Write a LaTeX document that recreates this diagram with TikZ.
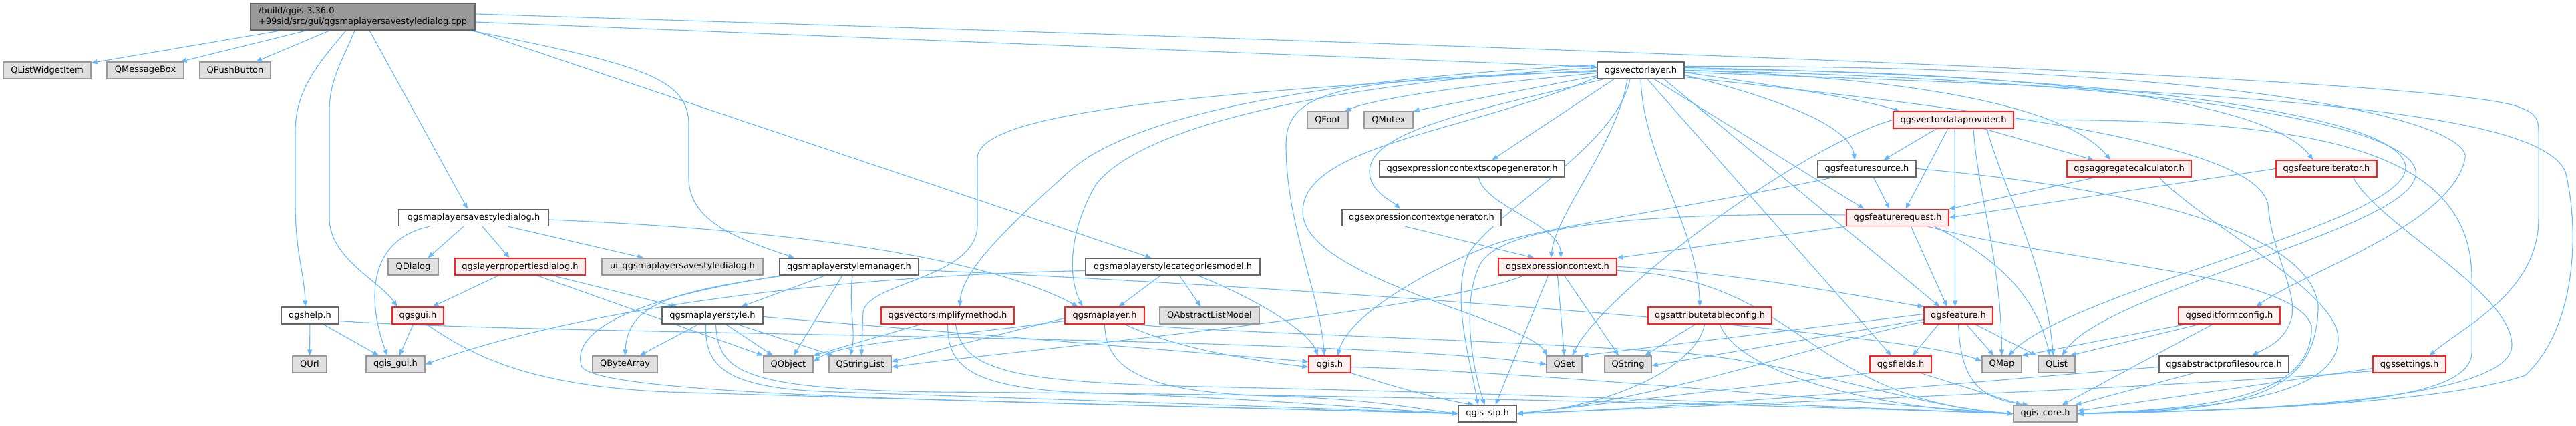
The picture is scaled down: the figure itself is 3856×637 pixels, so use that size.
\documentclass[tikz,border=0pt]{standalone}
\usepackage{fontspec}
\setmainfont{DejaVu Sans}
\usetikzlibrary{arrows.meta}
\definecolor{edgeblue}{HTML}{63B8FF}
\definecolor{extfill}{HTML}{E0E0E0}
\definecolor{extdraw}{HTML}{999999}
\definecolor{filedraw}{HTML}{666666}
\definecolor{mainfill}{HTML}{999999}
\definecolor{truncfill}{HTML}{FFF0F0}
\definecolor{truncdraw}{HTML}{FF2020}
\pgfdeclarelayer{edges}
\pgfsetlayers{edges,main}

\begin{document}
\begin{tikzpicture}[x=1pt,y=1pt,
	filebox/.style={draw=filedraw, fill=white, line width=1.2pt, minimum height=25pt, inner sep=0pt, font=\fontsize{13}{15.5}\selectfont},
	extbox/.style={filebox, draw=extdraw, fill=extfill},
	redbox/.style={filebox, draw=truncdraw, fill=truncfill},
	mainbox/.style={filebox, fill=mainfill},
	incl/.style={draw=edgeblue, line width=1.1pt, -{Triangle[length=9pt,width=7pt]}}]
			%%%%% START %%%%%
			
			\useasboundingbox (0,0) rectangle (3856,637);
			
			\node[mainbox, minimum width=336pt, minimum height=40pt, align=left] (main) at (543,612) {/build/qgis-3.36.0\\+99sid/src/gui/qgsmaplayersavestyledialog.cpp};
			
			\node[extbox, minimum width=131pt] (qlwi) at (70.5,531.5) {QListWidgetItem};
			\node[extbox, minimum width=115pt] (qmsgbox) at (217.5,531.5) {QMessageBox};
			\node[extbox, minimum width=106pt] (qpushbtn) at (352,531.5) {QPushButton};
			\node[filebox, minimum width=130pt] (vlayer) at (2456,531.5) {qgsvectorlayer.h};
			
			\node[extbox, minimum width=61pt] (qfont) at (1987.5,457.5) {QFont};
			\node[extbox, minimum width=73pt] (qmutex) at (2078.5,457.5) {QMutex};
			\node[redbox, minimum width=180pt] (vdprov) at (2924,457.5) {qgsvectordataprovider.h};
			
			\node[filebox, minimum width=277pt] (scopegen) at (2203.5,384.5) {qgsexpressioncontextscopegenerator.h};
			\node[filebox, minimum width=147pt] (fsource) at (2794.5,384.5) {qgsfeaturesource.h};
			\node[redbox, minimum width=186pt] (aggcalc) at (3187,384.5) {qgsaggregatecalculator.h};
			\node[redbox, minimum width=151pt] (fiter) at (3482.5,384.5) {qgsfeatureiterator.h};
			
			\node[filebox, minimum width=224pt] (savedlg) at (709,311) {qgsmaplayersavestyledialog.h};
			\node[filebox, minimum width=238pt] (ctxgen) at (2128,311) {qgsexpressioncontextgenerator.h};
			\node[redbox, minimum width=153pt] (freq) at (2840.5,311) {qgsfeaturerequest.h};
			
			\node[extbox, minimum width=75pt] (qdialog) at (618.5,237.5) {QDialog};
			\node[redbox, minimum width=195pt] (layerprops) at (778.5,237.5) {qgslayerpropertiesdialog.h};
			\node[extbox, minimum width=241pt] (uidlg) at (1021.5,237.5) {ui\_qgsmaplayersavestyledialog.h};
			\node[filebox, minimum width=208pt] (stylemgr) at (1271,237.5) {qgsmaplayerstylemanager.h};
			\node[filebox, minimum width=261pt] (catmodel) at (1755.5,237.5) {qgsmaplayerstylecategoriesmodel.h};
			\node[redbox, minimum width=177pt] (expctx) at (2331.5,237.5) {qgsexpressioncontext.h};
			
			\node[filebox, minimum width=86pt] (help) at (464,164.5) {qgshelp.h};
			\node[redbox, minimum width=77pt] (gui) at (625.5,164.5) {qgsgui.h};
			\node[filebox, minimum width=151pt] (mlstyle) at (1066.5,164.5) {qgsmaplayerstyle.h};
			\node[redbox, minimum width=199pt] (vsimpl) at (1418.5,164.5) {qgsvectorsimplifymethod.h};
			\node[redbox, minimum width=119pt] (mlayer) at (1653.5,164.5) {qgsmaplayer.h};
			\node[extbox, minimum width=149pt] (qalm) at (1810.5,164.5) {QAbstractListModel};
			\node[redbox, minimum width=185pt] (attrcfg) at (2559.5,164.5) {qgsattributetableconfig.h};
			\node[redbox, minimum width=103pt] (feature) at (2931.5,164.5) {qgsfeature.h};
			\node[redbox, minimum width=152pt] (editform) at (3337,164.5) {qgseditformconfig.h};
			
			\node[extbox, minimum width=51pt] (qurl) at (463.5,91.5) {QUrl};
			\node[extbox, minimum width=88pt] (qgisgui) at (592,91.5) {qgis\_gui.h};
			\node[extbox, minimum width=97pt] (qbytearr) at (935.5,91.5) {QByteArray};
			\node[extbox, minimum width=74pt] (qobject) at (1180,91.5) {QObject};
			\node[extbox, minimum width=93pt] (qstrlist) at (1287.5,91.5) {QStringList};
			\node[redbox, minimum width=63pt] (qgish) at (1990.5,91.5) {qgis.h};
			\node[extbox, minimum width=53pt] (qset) at (2341.5,91.5) {QSet};
			\node[extbox, minimum width=70pt] (qstring) at (2437,91.5) {QString};
			\node[redbox, minimum width=92pt] (fields) at (2845,91.5) {qgsfields.h};
			\node[extbox, minimum width=59pt] (qmap) at (2996.5,91.5) {QMap};
			\node[extbox, minimum width=55pt] (qlist) at (3078.5,91.5) {QList};
			\node[filebox, minimum width=194pt] (absprof) at (3329,91.5) {qgsabstractprofilesource.h};
			\node[redbox, minimum width=109pt] (sett) at (3606.5,91.5) {qgssettings.h};
			
			\node[filebox, minimum width=87pt] (qgissip) at (2226.5,17.5) {qgis\_sip.h};
			\node[extbox, minimum width=95pt] (qgiscore) at (3061.5,17.5) {qgis\_core.h};
			
			\begin{pgfonlayer}{edges}
			% the .cpp file
			\draw[incl] (main) -- (qlwi);
			\draw[incl] (main) -- (qmsgbox);
			\draw[incl] (main) -- (qpushbtn);
			\draw[incl] ([xshift=-25pt]main.south) .. controls (480,545) and (442,505) .. (442,440) -- (442,330) .. controls (442,260) and (456,225) .. ([xshift=-7pt]help.north);
			\draw[incl] ([xshift=-12pt]main.south) .. controls (515,550) and (493,520) .. (493,470) -- (493,310) .. controls (493,250) and (570,215) .. ([xshift=-31pt]gui.north);
			\draw[incl] ([xshift=10pt]main.south) -- ([xshift=-9pt]savedlg.north);
			\draw[incl] ([xshift=160pt]main.south) .. controls (960,540) and (1031,520) .. (1031,450) -- (1031,370) .. controls (1031,300) and (1120,275) .. ([xshift=-82pt]stylemgr.north);
			\draw[incl] ([xshift=165pt]main.south) -- ([xshift=-32pt]catmodel.north);
			\draw[incl] ([yshift=-8pt]main.east) -- ([yshift=5pt]vlayer.west);
			\draw[incl] ([yshift=4pt]main.east) .. controls (2500,560) and (3600,520) .. (3760,480) .. controls (3795,470) and (3800,460) .. (3800,440) -- (3800,310) .. controls (3800,200) and (3690,150) .. ([xshift=30pt]sett.north);
			
			% qgsmaplayersavestyledialog.h
			\draw[incl] ([xshift=-15pt]savedlg.south) -- ([xshift=22pt]qdialog.north);
			\draw[incl] ([xshift=-66pt]savedlg.south) .. controls (540,275) and (555,170) .. ([xshift=-12pt]qgisgui.north);
			\draw[incl] ([xshift=13pt]savedlg.south) -- ([xshift=-16pt]layerprops.north);
			\draw[incl] ([xshift=51pt]savedlg.south) -- ([xshift=-58pt]uidlg.north);
			\draw[incl] ([yshift=-3pt]savedlg.east) .. controls (1250,290) and (1500,240) .. ([xshift=-40pt]mlayer.north);
			
			\draw[incl] ([xshift=-32pt]layerprops.south) -- ([xshift=22pt]gui.north);
			\draw[incl] ([xshift=48pt]layerprops.south) -- ([xshift=-53pt]mlstyle.north);
			\draw[incl] ([xshift=25pt]layerprops.south) -- (qobject.north west);
			
			\draw[incl] ([xshift=-35pt]stylemgr.south) -- ([xshift=43pt]mlstyle.north);
			\draw[incl] ([xshift=-95pt]stylemgr.south) .. controls (1000,200) and (940,180) .. (qbytearr.north);
			\draw[incl] ([xshift=-10pt]stylemgr.south) -- ([xshift=8pt]qobject.north);
			\draw[incl] ([xshift=5pt]stylemgr.south) .. controls (1270,170) and (1282,140) .. ([xshift=-15pt]qstrlist.north);
			\draw[incl] ([xshift=-100pt]stylemgr.south) .. controls (880,180) and (862,120) .. (870,90) .. controls (880,40) and (1600,35) .. (qgissip.west);
			\draw[incl] ([yshift=-5pt]stylemgr.east) .. controls (2000,205) and (2850,140) .. ([yshift=5pt]qmap.west);
			
			\draw[incl] ([xshift=-18pt]catmodel.south) -- ([xshift=21pt]mlayer.north);
			\draw[incl] ([xshift=10pt]catmodel.south) -- ([xshift=-13pt]qalm.north);
			\draw[incl] ([xshift=37pt]catmodel.south) .. controls (1880,190) and (1960,140) .. ([xshift=-18pt]qgish.north);
			\draw[incl] ([yshift=-6pt]catmodel.west) .. controls (1300,225) and (900,185) .. (qgisgui.east);
			
			% gui side
			\draw[incl] (help) -- (qurl);
			\draw[incl] ([xshift=20pt]help.south) -- ([xshift=-25pt]qgisgui.north);
			\draw[incl] ([yshift=-8pt]help.east) .. controls (800,135) and (2000,135) .. (qset.west);
			\draw[incl] ([xshift=-7pt]gui.south) -- ([xshift=6pt]qgisgui.north);
			\draw[incl] ([xshift=13pt]gui.south) .. controls (700,110) and (780,60) .. (1000,50) .. controls (1500,35) and (1900,25) .. (qgissip.west);
			
			% qgsmaplayerstyle.h, qgsvectorsimplifymethod.h, qgsmaplayer.h, qgis.h
			\draw[incl] ([xshift=-21pt]mlstyle.south) -- ([xshift=22pt]qbytearr.north);
			\draw[incl] ([xshift=20pt]mlstyle.south) -- ([xshift=-23pt]qobject.north);
			\draw[incl] ([xshift=37pt]mlstyle.south) -- ([xshift=-40pt]qstrlist.north);
			\draw[incl] ([yshift=-2pt]mlstyle.east) -- ([yshift=4pt]qgish.west);
			\draw[incl] ([xshift=-10pt]mlstyle.south) .. controls (1055,90) and (1080,55) .. (1250,50) .. controls (1700,35) and (2000,25) .. (qgissip.west);
			\draw[incl] ([xshift=5pt]mlstyle.south) .. controls (1075,80) and (1110,55) .. (1400,50) .. controls (2200,45) and (2800,25) .. (qgiscore.west);
			
			\draw[incl] ([xshift=-40pt]vsimpl.south) -- (qobject.north east);
			\draw[incl] (vsimpl.south) .. controls (1418,90) and (1450,60) .. (1600,50) .. controls (1900,40) and (2050,25) .. (qgissip.west);
			\draw[incl] ([xshift=12pt]vsimpl.south) .. controls (1440,80) and (1520,65) .. (1800,58) .. controls (2400,45) and (2800,25) .. (qgiscore.west);
			
			\draw[incl] ([yshift=-4pt]mlayer.west) -- ([yshift=4pt]qstrlist.east);
			\draw[incl] ([yshift=-8pt]mlayer.west) .. controls (1400,130) and (1260,125) .. ([yshift=4pt]qobject.east);
			\draw[incl] ([xshift=30pt]mlayer.south) .. controls (1750,120) and (1850,100) .. ([yshift=-4pt]qgish.west);
			\draw[incl] (mlayer.south) .. controls (1655,80) and (1720,50) .. (1900,44) .. controls (2050,40) and (2120,25) .. (qgissip.west);
			\draw[incl] ([xshift=45pt]mlayer.south) .. controls (1800,140) and (2200,130) .. (2500,110) .. controls (2700,95) and (2850,30) .. (qgiscore.west);
			
			\draw[incl] (qgish.south east) .. controls (2080,60) and (2150,40) .. ([xshift=-20pt]qgissip.north);
			\draw[incl] ([yshift=-4pt]qgish.east) .. controls (2300,80) and (2700,40) .. (qgiscore.west);
			
			% qgsvectorlayer.h
			\draw[incl] ([yshift=-4pt]vlayer.west) .. controls (2200,510) and (2060,490) .. ([xshift=-6pt]qfont.north east);
			\draw[incl] ([yshift=-8pt]vlayer.west) -- (qmutex.north east);
			\draw[incl] ([xshift=-40pt]vlayer.south) -- ([xshift=30pt]scopegen.north);
			\draw[incl] ([xshift=-55pt]vlayer.south) .. controls (2200,470) and (2050,440) .. (2050,380) .. controls (2050,350) and (2085,335) .. ([xshift=-32pt]ctxgen.north);
			\draw[incl] ([yshift=-3pt]vlayer.east) .. controls (2650,510) and (2780,490) .. ([xshift=-80pt]vdprov.north);
			\draw[incl] ([yshift=-7pt]vlayer.east) .. controls (2700,480) and (2770,440) .. ([xshift=-18pt]fsource.north);
			\draw[incl] (vlayer.east) .. controls (2900,520) and (3100,470) .. ([xshift=-28pt]aggcalc.north);
			\draw[incl] ([yshift=2pt]vlayer.east) .. controls (3100,530) and (3400,480) .. ([xshift=-20pt]fiter.north);
			\draw[incl] ([xshift=20pt]vlayer.south) -- ([xshift=-50pt]freq.north);
			\draw[incl] ([xshift=-20pt]vlayer.south) .. controls (2420,420) and (2330,320) .. ([xshift=-10pt]expctx.north);
			\draw[incl] (vlayer.south) .. controls (2460,400) and (2540,300) .. ([xshift=-15pt]attrcfg.north);
			\draw[incl] ([xshift=10pt]vlayer.south) -- ([xshift=-14pt]fields.north);
			\draw[incl] ([xshift=35pt]vlayer.south) -- ([xshift=-28pt]feature.north);
			\draw[incl] ([xshift=-16pt]vlayer.south) .. controls (2420,420) and (2250,330) .. (2200,260) .. controls (2170,200) and (2200,100) .. ([xshift=-14pt]qgissip.north);
			\draw[incl] ([yshift=-10pt]vlayer.west) .. controls (2200,440) and (1950,420) .. (1950,320) .. controls (1950,220) and (2280,160) .. ([xshift=-25pt]qset.north);
			\draw[incl] ([yshift=-2pt]vlayer.west) .. controls (2000,520) and (1925,500) .. (1925,420) .. controls (1925,300) and (1975,200) .. ([xshift=-8pt]qgish.north);
			\draw[incl] ([yshift=4pt]vlayer.west) .. controls (1950,510) and (1700,440) .. (1640,360) .. controls (1605,300) and (1595,230) .. ([xshift=-33pt]mlayer.north);
			\draw[incl] ([yshift=8pt]vlayer.west) .. controls (2000,520) and (1700,470) .. (1600,380) .. controls (1500,290) and (1440,230) .. ([xshift=18pt]vsimpl.north);
			\draw[incl] (vlayer.west) .. controls (1800,500) and (1463,470) .. (1463,400) -- (1463,300) .. controls (1463,220) and (1300,215) .. (1292,170) -- ([xshift=2pt]qstrlist.north);
			\draw[incl] ([yshift=4pt]vlayer.east) .. controls (3300,520) and (3620,450) .. (3600,380) .. controls (3580,300) and (3100,200) .. ([xshift=10pt]qmap.north);
			\draw[incl] (vlayer.east) .. controls (3320,515) and (3640,440) .. (3615,370) .. controls (3590,290) and (3150,200) .. ([xshift=8pt]qlist.north);
			\draw[incl] ([yshift=6pt]vlayer.east) .. controls (3400,540) and (3700,450) .. (3690,400) .. controls (3670,300) and (3450,230) .. ([xshift=40pt]editform.north);
			\draw[incl] ([yshift=-10pt]vlayer.east) .. controls (3000,470) and (3380,420) .. (3395,330) .. controls (3400,260) and (3440,200) .. (3430,160) .. controls (3420,125) and (3390,115) .. ([xshift=42pt]absprof.north);
			\draw[incl] ([yshift=-3pt]vlayer.east) .. controls (3400,500) and (3800,470) .. (3840,380) .. controls (3860,300) and (3860,150) .. (3780,75) .. controls (3650,30) and (3300,22) .. (qgiscore.east);
			
			% qgsvectordataprovider.h and the feature classes
			\draw[incl] ([xshift=-25pt]vdprov.south) -- ([xshift=25pt]fsource.north);
			\draw[incl] ([xshift=45pt]vdprov.south) -- ([xshift=-53pt]aggcalc.north);
			\draw[incl] ([xshift=-8pt]vdprov.south) -- ([xshift=12pt]freq.north);
			\draw[incl] ([xshift=2pt]vdprov.south) -- ([xshift=-5pt]feature.north);
			\draw[incl] ([xshift=30pt]vdprov.south) .. controls (2960,350) and (2995,250) .. (qmap.north);
			\draw[incl] ([xshift=50pt]vdprov.south) .. controls (3000,350) and (3060,250) .. ([xshift=-5pt]qlist.north);
			\draw[incl] (vdprov.west) .. controls (2700,420) and (2400,200) .. ([xshift=12pt]qset.north);
			\draw[incl] (vdprov.east) .. controls (3450,460) and (3700,420) .. (3700,220) -- (3700,110) .. controls (3700,40) and (3500,25) .. (qgiscore.east);
			
			\draw[incl] ([xshift=10pt]fsource.south) -- ([xshift=-12pt]freq.north);
			\draw[incl] ([xshift=-50pt]fsource.south) .. controls (2550,330) and (2330,300) .. (2245,274) .. controls (2160,245) and (2020,170) .. ([xshift=12pt]qgish.north);
			\draw[incl] (fsource.east) .. controls (3150,360) and (3455,300) .. (3470,180) .. controls (3470,40) and (3350,22) .. (qgiscore.east);
			
			\draw[incl] ([xshift=-50pt]aggcalc.south) -- (freq.north east);
			\draw[incl] ([xshift=45pt]aggcalc.south) .. controls (3300,300) and (3500,200) .. (3500,130) .. controls (3500,50) and (3350,25) .. (qgiscore.east);
			
			\draw[incl] (fiter.west) -- (freq.east);
			\draw[incl] ([xshift=40pt]fiter.south) .. controls (3560,300) and (3760,200) .. (3760,120) .. controls (3760,40) and (3400,22) .. (qgiscore.east);
			
			\draw[incl] (freq.south west) -- (expctx.north east);
			\draw[incl] ([xshift=20pt]freq.south) -- ([xshift=-17pt]feature.north);
			\draw[incl] ([xshift=55pt]freq.south) .. controls (3010,240) and (3050,180) .. ([xshift=-10pt]qlist.north);
			\draw[incl] ([yshift=4pt]freq.west) .. controls (2400,320) and (2240,290) .. (2215,240) .. controls (2190,190) and (2200,100) .. ([xshift=-4pt]qgissip.north);
			\draw[incl] ([xshift=45pt]freq.south) .. controls (3100,240) and (3430,230) .. (3460,150) .. controls (3465,40) and (3300,25) .. (qgiscore.east);
			
			\draw[incl] ([xshift=-25pt]ctxgen.south) -- ([xshift=-35pt]expctx.north);
			\draw[incl] ([xshift=10pt]scopegen.south) .. controls (2220,330) and (2335,300) .. ([xshift=5pt]expctx.north);
			
			% qgsexpressioncontext.h and below
			\draw[incl] (expctx.south) -- (qset.north);
			\draw[incl] ([xshift=10pt]expctx.south) -- ([xshift=-14pt]qstring.north);
			\draw[incl] ([xshift=-14pt]expctx.south) -- ([xshift=12pt]qgissip.north);
			\draw[incl] ([xshift=-50pt]expctx.south) .. controls (2150,170) and (1500,110) .. ([yshift=-4pt]qstrlist.east);
			\draw[incl] (expctx.east) .. controls (2600,230) and (2800,190) .. (feature.north west);
			\draw[incl] ([yshift=-6pt]expctx.east) .. controls (2700,220) and (2700,40) .. (qgiscore.west);
			
			\draw[incl] ([xshift=-22pt]attrcfg.south) -- ([xshift=25pt]qstring.north);
			\draw[incl] ([xshift=-8pt]attrcfg.south) .. controls (2540,90) and (2420,30) .. (qgissip.east);
			\draw[incl] ([xshift=15pt]attrcfg.south) .. controls (2600,80) and (2800,25) .. (qgiscore.west);
			
			\draw[incl] ([xshift=-30pt]feature.south) -- ([xshift=18pt]fields.north);
			\draw[incl] ([xshift=12pt]feature.south) -- ([xshift=-12pt]qmap.north);
			\draw[incl] ([xshift=25pt]feature.south) -- ([xshift=-30pt]qlist.north);
			\draw[incl] ([yshift=2pt]feature.west) -- (qset.north east);
			\draw[incl] ([yshift=-6pt]feature.west) -- ([yshift=-2pt]qstring.east);
			\draw[incl] (feature.south) .. controls (2935,70) and (2960,40) .. ([xshift=-25pt]qgiscore.north);
			\draw[incl] ([yshift=-10pt]feature.west) .. controls (2780,140) and (2500,40) .. (qgissip.east);
			
			\draw[incl] ([xshift=30pt]fields.south) -- ([xshift=-35pt]qgiscore.north);
			\draw[incl] (fields.south west) -- (qgissip.east);
			
			\draw[incl] ([xshift=-65pt]editform.south) -- (qmap.north east);
			\draw[incl] ([xshift=-45pt]editform.south) -- ([xshift=20pt]qlist.north);
			\draw[incl] ([xshift=-25pt]editform.south) -- ([xshift=25pt]qgiscore.north);
			
			\draw[incl] ([xshift=-45pt]absprof.south) -- ([xshift=45pt]qgiscore.north);
			\draw[incl] ([yshift=-4pt]absprof.west) .. controls (3000,70) and (2600,30) .. (qgissip.east);
			
			\draw[incl] ([yshift=-6pt]sett.west) -- ([yshift=4pt]qgiscore.east);
			\draw[incl] ([yshift=-10pt]sett.west) .. controls (3300,60) and (2700,35) .. (qgissip.east);
			\end{pgfonlayer}
			
			%%%%% END %%%%%
		\end{tikzpicture}
\end{document}
